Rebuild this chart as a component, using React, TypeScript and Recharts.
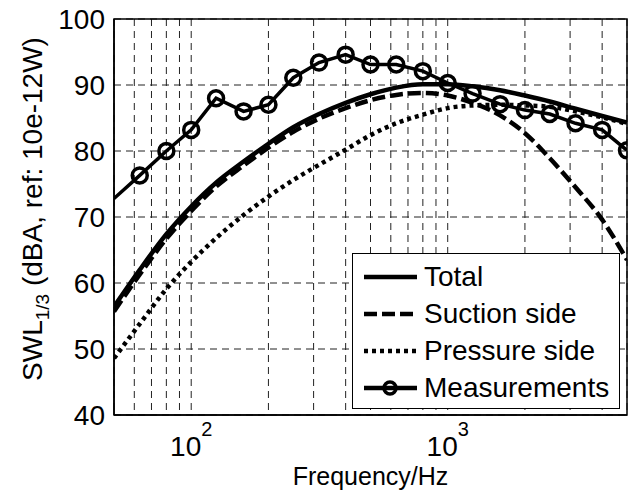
import React from "react";
import {
  LineChart,
  Line,
  XAxis,
  YAxis,
  CartesianGrid,
  Legend,
  ReferenceArea,
} from "recharts";

// 1/3-octave band centre frequencies (Hz)
const freqs = [50, 63, 80, 100, 125, 160, 200, 250, 315, 400, 500, 630, 800, 1000, 1250, 1600, 2000, 2500, 3150, 4000, 5000];

// predicted SWL, dBA
const total = [56.4, 62.0, 67.4, 71.6, 75.2, 78.4, 81.1, 83.6, 85.6, 87.3, 88.6, 89.6, 90.1, 90.1, 89.8, 89.2, 88.4, 87.5, 86.4, 85.3, 84.3];
const suction = [55.7, 61.3, 66.7, 70.9, 74.6, 77.8, 80.5, 82.9, 84.9, 86.5, 87.7, 88.5, 88.8, 88.4, 87.3, 85.4, 82.7, 78.9, 74.5, 69.6, 63.5];
const pressure = [48.6, 53.8, 59.1, 63.2, 66.8, 70.3, 73.1, 75.6, 77.9, 80.2, 82.4, 84.2, 85.5, 86.5, 86.9, 87.0, 86.9, 86.7, 86.0, 85.1, 84.1];
// measured SWL, dBA (first value is where the line enters the axes)
const measured = [72.8, 76.3, 80.0, 83.2, 88.0, 86.0, 87.0, 91.1, 93.4, 94.6, 93.1, 93.1, 92.1, 90.3, 88.7, 87.1, 86.2, 85.6, 84.2, 83.2, 80.1];

const gridFreqs = [60, 70, 80, 90, 100, 200, 300, 400, 500, 600, 700, 800, 900, 1000, 2000, 3000, 4000];
const yTicks = [40, 50, 60, 70, 80, 90, 100];
const decadeExp: Record<number, string> = { 100: "2", 1000: "3" };

const data = freqs.map((f, i) => ({
  f,
  total: total[i],
  suction: suction[i],
  pressure: pressure[i],
  measured: measured[i],
}));

const legendItems = [
  { label: "Total", dash: undefined, marker: false },
  { label: "Suction side", dash: "13 5", marker: false },
  { label: "Pressure side", dash: "4 4", marker: false },
  { label: "Measurements", dash: undefined, marker: true },
];

const FONT = 28;

const XTick = (props: any) => {
  const { x, y, payload } = props;
  const exp = decadeExp[payload.value];
  if (!exp) return <g />;
  return (
    <text x={x} y={y + 33} textAnchor="middle" fontSize={FONT} fill="#000">
      10
      <tspan dy={-20} fontSize={20}>{exp}</tspan>
    </text>
  );
};

const XLabel = ({ viewBox }: any) => (
  <text x={viewBox.x + viewBox.width / 2} y={485} textAnchor="middle" fontSize={FONT - 3} fill="#000">
    Frequency/Hz
  </text>
);

const YLabel = ({ viewBox }: any) => {
  const cx = viewBox.x + 42;
  const cy = viewBox.y + viewBox.height / 2 - 8;
  return (
    <text transform={`rotate(-90 ${cx} ${cy})`} x={cx} y={cy} textAnchor="middle" fontSize={FONT} fill="#000">
      SWL
      <tspan fontSize={19} dy={7}>1/3</tspan>
      <tspan dy={-7}> (dBA, ref: 10e-12W)</tspan>
    </text>
  );
};

const renderDot = (props: any) => {
  const { cx, cy, index } = props;
  if (index === 0) return <g key={`m-${index}`} />;
  return <circle key={`m-${index}`} cx={cx} cy={cy} r={7.5} fill="none" stroke="#000" strokeWidth={3.5} />;
};

const renderLegend = () => (
  <div style={{ border: "1.5px solid #000", background: "#fff", width: 266, height: 150, paddingTop: 4, boxSizing: "content-box" }}>
    {legendItems.map((item) => (
      <div key={item.label} style={{ display: "flex", alignItems: "center", height: 37, paddingLeft: 9 }}>
        <svg width={57} height={20}>
          <line x1={2} x2={55} y1={10} y2={10} stroke="#000" strokeWidth={4.5} strokeDasharray={item.dash} />
          {item.marker && <circle cx={28} cy={10} r={6} fill="none" stroke="#000" strokeWidth={3.5} />}
        </svg>
        <span style={{ fontSize: FONT, marginLeft: 5, lineHeight: 1 }}>{item.label}</span>
      </div>
    ))}
  </div>
);

export default function App() {
  return (
    <div style={{ position: "absolute", left: 0, top: 0, background: "#fff", fontFamily: "'Liberation Sans', Arial, sans-serif" }}>
      <LineChart width={629} height={492} data={data} margin={{ top: 19, right: 2, left: 0, bottom: 0 }}>
        <CartesianGrid stroke="#222" strokeWidth={1} strokeDasharray="7 5" />
        <XAxis
          dataKey="f"
          type="number"
          scale="log"
          domain={[50, 5000]}
          allowDataOverflow
          ticks={gridFreqs}
          interval={0}
          tick={<XTick />}
          tickLine={false}
          axisLine={{ stroke: "#000", strokeWidth: 1.5 }}
          height={77}
          label={<XLabel />}
        />
        <YAxis
          type="number"
          domain={[40, 100]}
          ticks={yTicks}
          interval={0}
          width={114}
          tickSize={0}
          tickMargin={9}
          tickLine={false}
          tick={{ fontSize: FONT, fill: "#000" }}
          axisLine={{ stroke: "#000", strokeWidth: 1.5 }}
          label={<YLabel />}
        />
        <ReferenceArea x1={50} x2={5000} y1={40} y2={100} fill="none" stroke="#000" strokeWidth={1.5} />
        <Line dataKey="total" stroke="#000" strokeWidth={4.5} dot={false} type="monotone" isAnimationActive={false} />
        <Line dataKey="suction" stroke="#000" strokeWidth={4.5} strokeDasharray="13 5" dot={false} type="monotone" isAnimationActive={false} />
        <Line dataKey="pressure" stroke="#000" strokeWidth={4.5} strokeDasharray="4 4" dot={false} type="monotone" isAnimationActive={false} />
        <Line dataKey="measured" stroke="#000" strokeWidth={3.5} dot={renderDot} type="linear" isAnimationActive={false} />
        <Legend
          layout="vertical"
          align="center"
          verticalAlign="middle"
          content={renderLegend}
          wrapperStyle={{ left: 352, top: 253, width: 270 }}
        />
      </LineChart>
    </div>
  );
}
